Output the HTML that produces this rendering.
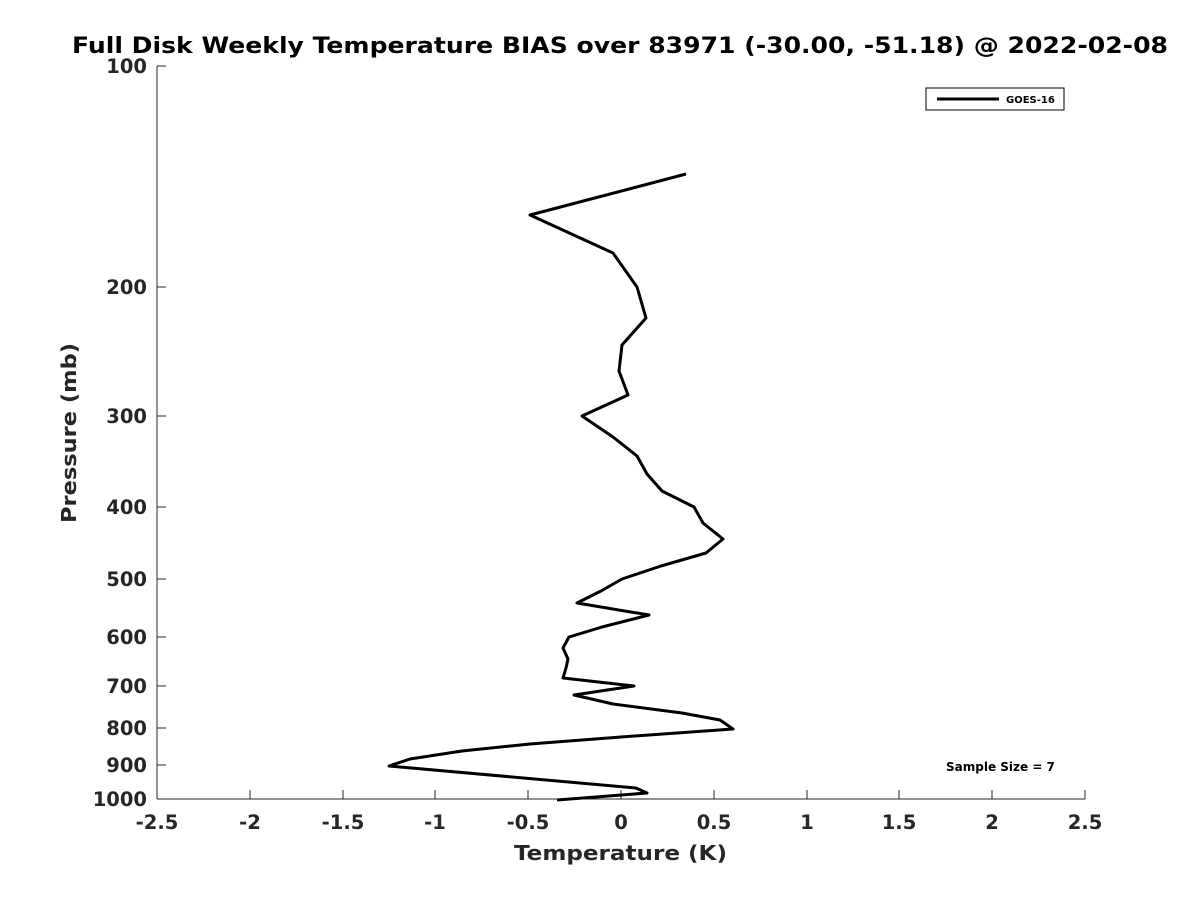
<!DOCTYPE html>
<html><head><style>body{margin:0;background:#fff}</style></head><body>
<svg width="1200" height="900" xmlns="http://www.w3.org/2000/svg" font-family="DejaVu Sans, Liberation Sans, sans-serif">
<rect width="1200" height="900" fill="#fff"/>
<text x="72" y="53" font-size="22" font-weight="bold" fill="#000" textLength="1096" lengthAdjust="spacingAndGlyphs">Full Disk Weekly Temperature BIAS over 83971 (-30.00, -51.18) @ 2022-02-08</text>
<g stroke="#262626" stroke-width="1" fill="none">
<line x1="157" y1="66" x2="157" y2="799"/>
<line x1="157" y1="799" x2="1085" y2="799"/>
<g>
<line x1="157" y1="799" x2="157" y2="790"/><line x1="250" y1="799" x2="250" y2="790"/><line x1="343" y1="799" x2="343" y2="790"/><line x1="435" y1="799" x2="435" y2="790"/><line x1="528" y1="799" x2="528" y2="790"/><line x1="621" y1="799" x2="621" y2="790"/><line x1="714" y1="799" x2="714" y2="790"/><line x1="807" y1="799" x2="807" y2="790"/><line x1="899" y1="799" x2="899" y2="790"/><line x1="992" y1="799" x2="992" y2="790"/><line x1="1085" y1="799" x2="1085" y2="790"/>
</g>
<g>
<line x1="157" y1="66" x2="166" y2="66"/><line x1="157" y1="287" x2="166" y2="287"/><line x1="157" y1="416" x2="166" y2="416"/><line x1="157" y1="507" x2="166" y2="507"/><line x1="157" y1="579" x2="166" y2="579"/><line x1="157" y1="637" x2="166" y2="637"/><line x1="157" y1="686" x2="166" y2="686"/><line x1="157" y1="728" x2="166" y2="728"/><line x1="157" y1="765" x2="166" y2="765"/><line x1="157" y1="799" x2="166" y2="799"/>
</g>
</g>
<g font-size="19.5" font-weight="bold" fill="#262626" text-anchor="middle">
<text x="157" y="829">-2.5</text><text x="250" y="829">-2</text><text x="343" y="829">-1.5</text><text x="435" y="829">-1</text><text x="528" y="829">-0.5</text><text x="621" y="829">0</text><text x="714" y="829">0.5</text><text x="807" y="829">1</text><text x="899" y="829">1.5</text><text x="992" y="829">2</text><text x="1085" y="829">2.5</text>
</g>
<g font-size="19.5" font-weight="bold" fill="#262626" text-anchor="end">
<text x="147" y="73">100</text><text x="147" y="294">200</text><text x="147" y="423">300</text><text x="147" y="514">400</text><text x="147" y="586">500</text><text x="147" y="644">600</text><text x="147" y="693">700</text><text x="147" y="735">800</text><text x="147" y="772">900</text><text x="147" y="806">1000</text>
</g>
<text x="514" y="860" font-size="20" font-weight="bold" fill="#262626" textLength="213" lengthAdjust="spacingAndGlyphs">Temperature (K)</text>
<text transform="translate(76,523) rotate(-90)" font-size="20" font-weight="bold" fill="#262626" textLength="180" lengthAdjust="spacingAndGlyphs">Pressure (mb)</text>
<polyline fill="none" stroke="#000" stroke-width="3" stroke-linejoin="round" points="686,174 530,215 613,253 637,287 646,318 622,345 619,371 628,395 582,416 613,437 637,456 647,474 662,491 694,507 703,523 723,539 706,553 661,566 622,579 601,591 577,603 649,615 602,627 569,637 563,648 568,659 566,668 563,678 634,686 574,695 613,704 682,713 720,720 733,729 621,737 530,744 462,751 410,759 389,766 636,788 647,793 557,800"/>
<rect x="926" y="88" width="138" height="22" fill="#fff" stroke="#000" stroke-width="1"/>
<line x1="937" y1="99" x2="999" y2="99" stroke="#000" stroke-width="3"/>
<text x="1006" y="103" font-size="10" font-weight="bold" fill="#000">GOES-16</text>
<text x="946" y="771" font-size="12" font-weight="bold" fill="#000">Sample Size = 7</text>
</svg>
</body></html>
